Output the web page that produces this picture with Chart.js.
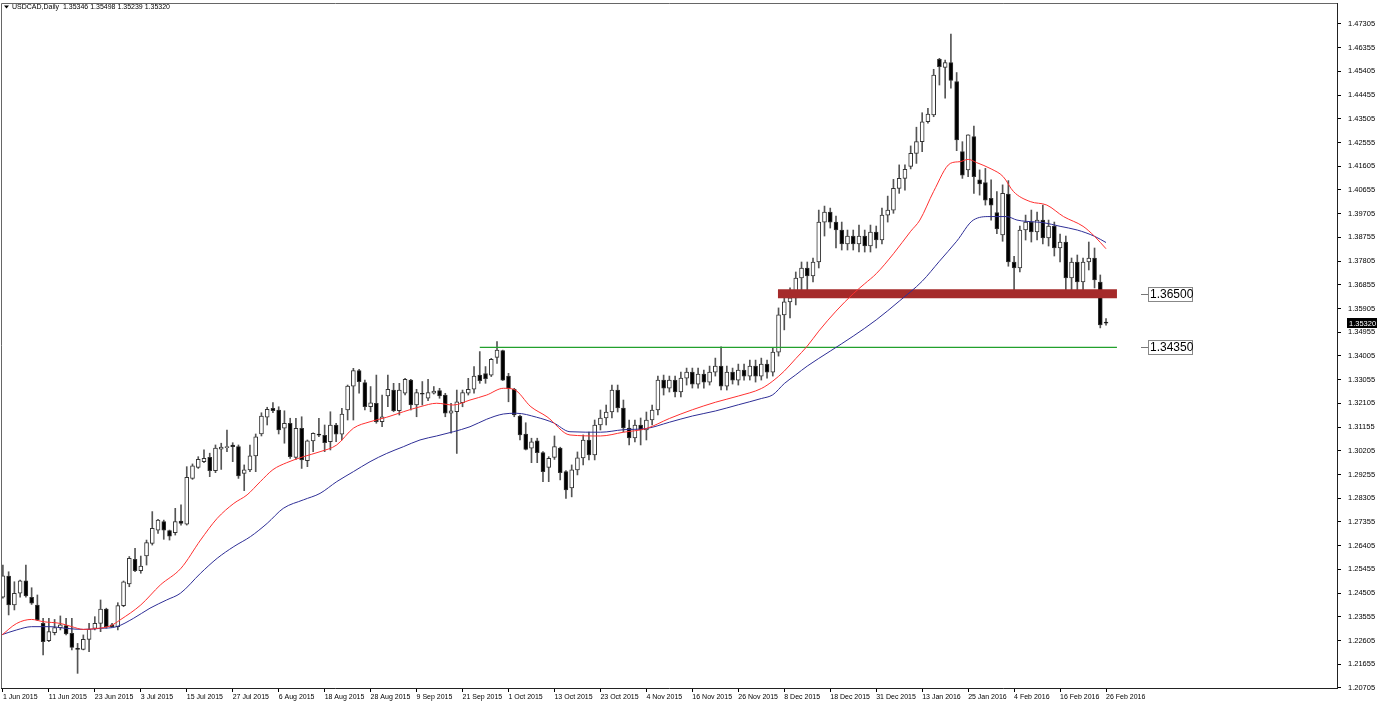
<!DOCTYPE html>
<html>
<head>
<meta charset="utf-8">
<title>USDCAD,Daily</title>
<script src="https://cdn.jsdelivr.net/npm/chart.js@4.4.0/dist/chart.umd.min.js"></script>
<style>
  html, body { margin: 0; padding: 0; background: #fff; }
  #wrap { position: relative; width: 1377px; height: 705px; }
  canvas { display: block; }
</style>
</head>
<body>
<div id="wrap"><canvas id="chart" width="1377" height="705"></canvas></div>
<script>
const header = "USDCAD,Daily  1.35346 1.35498 1.35239 1.35320";

// daily bars, 1 Jun 2015 .. 26 Feb 2016
const opens = [
  1.2434, 1.2519, 1.2403, 1.2450, 1.2500, 1.2434, 1.2403, 1.2329, 1.2260, 1.2292,
  1.2312, 1.2320, 1.2289, 1.2229, 1.2225, 1.2265, 1.2309, 1.2329, 1.2386, 1.2323,
  1.2316, 1.2400, 1.2487, 1.2586, 1.2540, 1.2599, 1.2650, 1.2703, 1.2737, 1.2701,
  1.2693, 1.2739, 1.2727, 1.2910, 1.2954, 1.2977, 1.2994, 1.2941, 1.3027, 1.3033,
  1.3044, 1.3037, 1.2930, 1.2944, 1.3000, 1.3088, 1.3155, 1.3191, 1.3184, 1.3111,
  1.3131, 1.2994, 1.3111, 1.2981, 1.3060, 1.3088, 1.3083, 1.3057, 1.3124, 1.3087,
  1.3184, 1.3280, 1.3342, 1.3294, 1.3197, 1.3211, 1.3137, 1.3240, 1.3264, 1.3181,
  1.3251, 1.3304, 1.3204, 1.3251, 1.3231, 1.3251, 1.3262, 1.3244, 1.3171, 1.3177,
  1.3213, 1.3251, 1.3267, 1.3324, 1.3330, 1.3324, 1.3395, 1.3422, 1.3320, 1.3267,
  1.3160, 1.3088, 1.3031, 1.3061, 1.3013, 1.2954, 1.2994, 1.3031, 1.2937, 1.2872,
  1.2944, 1.2992, 1.3064, 1.3004, 1.3124, 1.3152, 1.3176, 1.3264, 1.3192, 1.3112,
  1.3072, 1.3124, 1.3104, 1.3144, 1.3184, 1.3304, 1.3272, 1.3304, 1.3256, 1.3312,
  1.3336, 1.3288, 1.3328, 1.3296, 1.3336, 1.3360, 1.3280, 1.3336, 1.3304, 1.3344,
  1.3320, 1.3360, 1.3320, 1.3368, 1.3336, 1.3416, 1.3565, 1.3617, 1.3633, 1.3713,
  1.3753, 1.3721, 1.3777, 1.3937, 1.3977, 1.3937, 1.3905, 1.3849, 1.3881, 1.3849,
  1.3881, 1.3841, 1.3897, 1.3865, 1.3965, 1.3985, 1.4072, 1.4112, 1.4160, 1.4212,
  1.4259, 1.4339, 1.4366, 1.4589, 1.4557, 1.4576, 1.4500, 1.4219, 1.4146, 1.4279,
  1.4106, 1.4095, 1.4032, 1.3975, 1.3885, 1.4049, 1.3777, 1.3753, 1.3905, 1.3937,
  1.3897, 1.3945, 1.3873, 1.3921, 1.3833, 1.3857, 1.3713, 1.3777, 1.3697, 1.3777,
  1.3793, 1.3697, 1.35346
];
const highs = [
  1.2563, 1.2536, 1.2496, 1.2503, 1.2563, 1.2472, 1.2443, 1.2349, 1.2349, 1.2345,
  1.2359, 1.2349, 1.2349, 1.2249, 1.2283, 1.2329, 1.2356, 1.2423, 1.2390, 1.2329,
  1.2412, 1.2499, 1.2597, 1.2630, 1.2599, 1.2663, 1.2777, 1.2746, 1.2743, 1.2703,
  1.2790, 1.2804, 1.2957, 1.2968, 1.2997, 1.3024, 1.3011, 1.3044, 1.3051, 1.3104,
  1.3053, 1.3044, 1.2964, 1.3044, 1.3088, 1.3173, 1.3195, 1.3214, 1.3197, 1.3181,
  1.3151, 1.3151, 1.3157, 1.3064, 1.3093, 1.3151, 1.3124, 1.3177, 1.3131, 1.3191,
  1.3284, 1.3351, 1.3347, 1.3304, 1.3278, 1.3324, 1.3244, 1.3324, 1.3291, 1.3291,
  1.3311, 1.3307, 1.3267, 1.3298, 1.3307, 1.3278, 1.3271, 1.3251, 1.3211, 1.3264,
  1.3264, 1.3311, 1.3358, 1.3418, 1.3358, 1.3391, 1.3458, 1.3424, 1.3331, 1.3271,
  1.3164, 1.3133, 1.3071, 1.3071, 1.3017, 1.2997, 1.3080, 1.3035, 1.2941, 1.2964,
  1.3016, 1.3084, 1.3096, 1.3144, 1.3184, 1.3204, 1.3284, 1.3284, 1.3224, 1.3144,
  1.3144, 1.3152, 1.3176, 1.3204, 1.3320, 1.3324, 1.3320, 1.3320, 1.3336, 1.3352,
  1.3352, 1.3352, 1.3344, 1.3360, 1.3392, 1.3437, 1.3360, 1.3352, 1.3368, 1.3368,
  1.3384, 1.3384, 1.3392, 1.3384, 1.3432, 1.3593, 1.3641, 1.3673, 1.3737, 1.3777,
  1.3777, 1.3793, 1.3985, 1.4001, 1.3993, 1.3961, 1.3937, 1.3905, 1.3905, 1.3925,
  1.3905, 1.3925, 1.3921, 1.3993, 1.4041, 1.4108, 1.4166, 1.4166, 1.4242, 1.4317,
  1.4375, 1.4393, 1.4549, 1.4593, 1.4586, 1.4690, 1.4536, 1.4259, 1.4286, 1.4322,
  1.4146, 1.4152, 1.4106, 1.4059, 1.4086, 1.4103, 1.3800, 1.3921, 1.3965, 1.3985,
  1.3977, 1.4005, 1.3945, 1.3937, 1.3889, 1.3881, 1.3793, 1.3805, 1.3793, 1.3857,
  1.3833, 1.3725, 1.35498
];
const lows = [
  1.2430, 1.2363, 1.2383, 1.2434, 1.2434, 1.2405, 1.2340, 1.2203, 1.2256, 1.2283,
  1.2303, 1.2283, 1.2223, 1.2129, 1.2223, 1.2216, 1.2303, 1.2296, 1.2310, 1.2314,
  1.2303, 1.2396, 1.2476, 1.2536, 1.2530, 1.2563, 1.2643, 1.2690, 1.2666, 1.2663,
  1.2683, 1.2723, 1.2723, 1.2906, 1.2950, 1.2973, 1.2917, 1.2933, 1.2946, 1.3017,
  1.2977, 1.2910, 1.2861, 1.2937, 1.2937, 1.3080, 1.3124, 1.3173, 1.3088, 1.3051,
  1.2990, 1.2986, 1.2950, 1.2957, 1.3017, 1.3077, 1.3017, 1.3024, 1.3057, 1.3064,
  1.3144, 1.3144, 1.3251, 1.3184, 1.3177, 1.3131, 1.3117, 1.3197, 1.3177, 1.3164,
  1.3244, 1.3184, 1.3157, 1.3204, 1.3221, 1.3248, 1.3231, 1.3157, 1.3091, 1.3010,
  1.3197, 1.3244, 1.3251, 1.3291, 1.3291, 1.3318, 1.3371, 1.3302, 1.3217, 1.3157,
  1.3064, 1.3024, 1.2973, 1.2973, 1.2897, 1.2897, 1.2986, 1.2904, 1.2830, 1.2836,
  1.2924, 1.2964, 1.2984, 1.2984, 1.3104, 1.3124, 1.3152, 1.3176, 1.3096, 1.3044,
  1.3056, 1.3044, 1.3064, 1.3124, 1.3164, 1.3244, 1.3256, 1.3236, 1.3236, 1.3284,
  1.3272, 1.3272, 1.3272, 1.3284, 1.3320, 1.3264, 1.3264, 1.3288, 1.3284, 1.3304,
  1.3304, 1.3296, 1.3304, 1.3312, 1.3320, 1.3400, 1.3505, 1.3553, 1.3605, 1.3665,
  1.3665, 1.3697, 1.3753, 1.3881, 1.3913, 1.3833, 1.3825, 1.3825, 1.3825, 1.3817,
  1.3817, 1.3817, 1.3833, 1.3849, 1.3937, 1.3972, 1.4052, 1.4065, 1.4150, 1.4172,
  1.4219, 1.4333, 1.4359, 1.4486, 1.4433, 1.4473, 1.4223, 1.4112, 1.4119, 1.4052,
  1.4045, 1.4005, 1.3945, 1.3890, 1.3860, 1.3760, 1.3643, 1.3737, 1.3865, 1.3857,
  1.3865, 1.3849, 1.3841, 1.3801, 1.3777, 1.3657, 1.3665, 1.3657, 1.3665, 1.3745,
  1.3673, 1.3513, 1.35239
];
const closes = [
  1.2520, 1.2403, 1.2450, 1.2500, 1.2439, 1.2410, 1.2343, 1.2256, 1.2296, 1.2312,
  1.2323, 1.2287, 1.2233, 1.2225, 1.2265, 1.2305, 1.2329, 1.2386, 1.2316, 1.2316,
  1.2400, 1.2496, 1.2590, 1.2540, 1.2559, 1.2653, 1.2710, 1.2743, 1.2703, 1.2679,
  1.2737, 1.2730, 1.2914, 1.2960, 1.2986, 1.2990, 1.2941, 1.3031, 1.3035, 1.3036,
  1.3037, 1.2920, 1.2944, 1.3000, 1.3077, 1.3160, 1.3187, 1.3181, 1.3104, 1.3131,
  1.2997, 1.3111, 1.2984, 1.3061, 1.3091, 1.3083, 1.3053, 1.3124, 1.3087, 1.3168,
  1.3280, 1.3342, 1.3298, 1.3197, 1.3213, 1.3137, 1.3157, 1.3267, 1.3181, 1.3264,
  1.3307, 1.3204, 1.3254, 1.3247, 1.3254, 1.3260, 1.3240, 1.3171, 1.3181, 1.3217,
  1.3254, 1.3267, 1.3320, 1.3302, 1.3310, 1.3387, 1.3424, 1.3304, 1.3271, 1.3164,
  1.3084, 1.3026, 1.3057, 1.3013, 1.2937, 1.2990, 1.3037, 1.2933, 1.2864, 1.2944,
  1.2992, 1.3064, 1.3004, 1.3124, 1.3152, 1.3176, 1.3264, 1.3192, 1.3112, 1.3072,
  1.3124, 1.3104, 1.3144, 1.3184, 1.3304, 1.3272, 1.3304, 1.3256, 1.3312, 1.3336,
  1.3288, 1.3328, 1.3296, 1.3336, 1.3360, 1.3280, 1.3336, 1.3304, 1.3344, 1.3320,
  1.3360, 1.3320, 1.3368, 1.3336, 1.3416, 1.3565, 1.3617, 1.3633, 1.3713, 1.3753,
  1.3721, 1.3777, 1.3937, 1.3977, 1.3937, 1.3905, 1.3849, 1.3881, 1.3849, 1.3881,
  1.3841, 1.3897, 1.3865, 1.3965, 1.3985, 1.4072, 1.4112, 1.4148, 1.4212, 1.4259,
  1.4339, 1.4370, 1.4526, 1.4560, 1.4576, 1.4504, 1.4266, 1.4125, 1.4286, 1.4119,
  1.4090, 1.4025, 1.4005, 1.3910, 1.4052, 1.3777, 1.3753, 1.3905, 1.3937, 1.3897,
  1.3945, 1.3873, 1.3921, 1.3833, 1.3857, 1.3713, 1.3777, 1.3697, 1.3777, 1.3793,
  1.3705, 1.3525, 1.35320
];

// one date label every 8 bars
const dateTicks = [
  "1 Jun 2015", "11 Jun 2015", "23 Jun 2015", "3 Jul 2015", "15 Jul 2015",
  "27 Jul 2015", "6 Aug 2015", "18 Aug 2015", "28 Aug 2015", "9 Sep 2015",
  "21 Sep 2015", "1 Oct 2015", "13 Oct 2015", "23 Oct 2015", "4 Nov 2015",
  "16 Nov 2015", "26 Nov 2015", "8 Dec 2015", "18 Dec 2015", "31 Dec 2015",
  "13 Jan 2016", "25 Jan 2016", "4 Feb 2016", "16 Feb 2016", "26 Feb 2016"
];
const priceTicks = [
  1.20705, 1.21655, 1.22605, 1.23555, 1.24505, 1.25455, 1.26405, 1.27355,
  1.28305, 1.29255, 1.30205, 1.31155, 1.32105, 1.33055, 1.34005, 1.34955,
  1.35905, 1.36855, 1.37805, 1.38755, 1.39705, 1.40655, 1.41605, 1.42555,
  1.43505, 1.44455, 1.45405, 1.46355, 1.47305
];

// moving averages: [bar, price]
const fastMA = [
  [-0.3, 1.2280], [2.4, 1.2329], [5, 1.2345], [7, 1.2336], [10, 1.2329], [12, 1.2316],
  [14, 1.2305], [16.4, 1.2309], [18.7, 1.2319], [20.4, 1.2343], [24, 1.2403], [27.4, 1.2483],
  [31, 1.2550], [34.4, 1.2663], [37.3, 1.2750], [40.2, 1.2810], [42.5, 1.2844], [44.8, 1.2897],
  [47, 1.2945], [49.4, 1.2973], [52.3, 1.2997], [55.2, 1.3017], [58.1, 1.3044], [61, 1.3111],
  [63.9, 1.3137], [66.8, 1.3155], [69.7, 1.3177], [72.6, 1.3197], [75.5, 1.3211], [78.4, 1.3204],
  [81.3, 1.3224], [84.2, 1.3244], [87.1, 1.3271], [88.9, 1.3267], [91.9, 1.3197], [94.7, 1.3157],
  [98.7, 1.3084], [104, 1.3080], [108, 1.3095], [112, 1.3110], [116, 1.3150], [120, 1.3185],
  [124, 1.3215], [128, 1.3240], [132, 1.3270], [134, 1.3300], [136, 1.3340], [138, 1.3390],
  [140, 1.3440], [142, 1.3500], [145, 1.3580], [148, 1.3650], [150, 1.3690], [152, 1.3730],
  [155, 1.3810], [158, 1.3900], [159.6, 1.3945], [162, 1.4060], [164.9, 1.4172], [166.6, 1.4179],
  [168, 1.4188], [169.5, 1.4175], [172, 1.4150], [174.1, 1.4119], [175.9, 1.4059], [178.8, 1.4019],
  [181.7, 1.4005], [184.6, 1.3959], [188, 1.3920], [190, 1.3880], [192, 1.3830]
];
const slowMA = [
  [-0.3, 1.2283], [2.4, 1.2303], [5, 1.2316], [8.2, 1.2316], [11.1, 1.2309], [14, 1.2305],
  [16.9, 1.2309], [19.8, 1.2316], [22.7, 1.2349], [25.6, 1.2390], [28.5, 1.2423], [30.9, 1.2450],
  [34.4, 1.2530], [37.3, 1.2590], [40.2, 1.2637], [43.1, 1.2677], [46, 1.2730], [48.8, 1.2790],
  [52.3, 1.2824], [55.2, 1.2850], [58.1, 1.2897], [61, 1.2937], [63.9, 1.2977], [66.8, 1.3010],
  [69.7, 1.3037], [72.6, 1.3064], [75.5, 1.3080], [78.4, 1.3097], [81.3, 1.3117], [84.2, 1.3147],
  [87.1, 1.3168], [89.4, 1.3171], [92.9, 1.3155], [95.8, 1.3133], [98.7, 1.3097], [104, 1.3095],
  [108, 1.3105], [112, 1.3110], [116, 1.3135], [120, 1.3160], [124, 1.3180], [128, 1.3205],
  [132, 1.3230], [134, 1.3245], [136, 1.3290], [138, 1.3325], [140, 1.3360], [144, 1.3420],
  [148, 1.3480], [152, 1.3545], [156, 1.3620], [160, 1.3700], [163, 1.3780], [166, 1.3860],
  [168.9, 1.3945], [171.8, 1.3959], [174.7, 1.3959], [176.5, 1.3945], [178, 1.3940],
  [181, 1.3935], [184, 1.3920], [187, 1.3905], [190, 1.3880], [192, 1.3855]
];

// horizontal levels drawn on the chart
const levelPrices = [1.36500, 1.34350];
const levelFrom = [134.9, 83];
const levelTo = 193.9;

const FONT = '"Liberation Sans", Arial, sans-serif';
const bars = opens.map((_, i) => i);
const upBar = bars.map(i => closes[i] >= opens[i]);

const levelColors = ['#a52a2a', '#22a02c'];
const levelWidths = [9, 1.4];

const datasets = [
  {
    type: 'line', label: 'fast', order: 0,
    data: fastMA.map(([x, y]) => ({ x, y })),
    borderColor: '#ff3030', borderWidth: 1, pointRadius: 0, cubicInterpolationMode: 'monotone'
  },
  {
    type: 'line', label: 'slow', order: 0,
    data: slowMA.map(([x, y]) => ({ x, y })),
    borderColor: '#2e2e96', borderWidth: 1, pointRadius: 0, cubicInterpolationMode: 'monotone'
  },
  ...levelPrices.map((p, k) => ({
    type: 'line', label: 'level' + k, order: 1,
    data: [{ x: levelFrom[k], y: p }, { x: levelTo, y: p }],
    borderColor: levelColors[k], borderWidth: levelWidths[k], pointRadius: 0, borderCapStyle: 'butt'
  })),
  {
    type: 'bar', label: 'body', order: 2, grouped: false,
    data: bars.map(i => ({ x: i, y: [Math.min(opens[i], closes[i]), Math.max(opens[i], closes[i])] })),
    backgroundColor: upBar.map(u => u ? '#ffffff' : '#000000'),
    borderColor: '#333', borderWidth: 1, borderSkipped: false,
    barThickness: 4, minBarLength: 1
  },
  {
    type: 'bar', label: 'wick', order: 3, grouped: false,
    data: bars.map(i => ({ x: i, y: [lows[i], highs[i]] })),
    backgroundColor: '#555', borderWidth: 0, barThickness: 1
  }
];

const overlay = {
  id: 'overlay',
  afterDraw(chart) {
    const { ctx, chartArea: a, scales } = chart;
    const y = scales.y;
    ctx.save();
    // frame
    ctx.strokeStyle = '#666';
    ctx.lineWidth = 1;
    ctx.beginPath();
    ctx.moveTo(a.left + 0.5, a.bottom);
    ctx.lineTo(a.left + 0.5, a.top + 0.5);
    ctx.lineTo(a.right, a.top + 0.5);
    ctx.stroke();

    // header
    ctx.fillStyle = '#000';
    ctx.font = '7px ' + FONT;
    ctx.textBaseline = 'middle';
    ctx.textAlign = 'left';
    ctx.beginPath();
    ctx.moveTo(4, 5.5); ctx.lineTo(9, 5.5); ctx.lineTo(6.5, 8.5); ctx.closePath(); ctx.fill();
    ctx.fillText(header, 12, 7.5);

    // level labels
    ctx.font = '12px ' + FONT;
    levelPrices.forEach(p => {
      const py = Math.round(y.getPixelForValue(p)) + 0.5;
      ctx.strokeStyle = '#777';
      ctx.beginPath(); ctx.moveTo(1141, py); ctx.lineTo(1148, py); ctx.stroke();
      ctx.fillStyle = '#fff';
      ctx.fillRect(1148.5, py - 7, 44, 14);
      ctx.strokeStyle = '#888';
      ctx.strokeRect(1148.5, py - 7, 44, 14);
      ctx.fillStyle = '#000';
      ctx.fillText(p.toFixed(5), 1150, py + 0.5);
    });

    // last price marker on the price axis
    const last = closes[closes.length - 1];
    const ly = Math.round(y.getPixelForValue(last));
    ctx.fillStyle = '#000';
    ctx.fillRect(a.right + 10, ly - 5, 30, 10);
    ctx.fillStyle = '#fff';
    ctx.font = '7.5px ' + FONT;
    ctx.fillText(last.toFixed(5), a.right + 12, ly + 0.5);
    ctx.restore();
  }
};

new Chart(document.getElementById('chart'), {
  type: 'bar',
  data: { datasets },
  options: {
    responsive: false,
    animation: false,
    devicePixelRatio: 1,
    layout: { padding: { left: 1, top: 3, right: 0, bottom: 0 } },
    plugins: { legend: { display: false }, tooltip: { enabled: false } },
    scales: {
      x: {
        type: 'linear', position: 'bottom', offset: false,
        min: -0.33, max: 232.2,
        afterBuildTicks: s => { s.ticks = dateTicks.map((_, k) => ({ value: k * 8 })); },
        afterFit: s => { s.height = 17; s.paddingLeft = 0; s.paddingRight = 0; },
        grid: { drawOnChartArea: false, offset: false, tickLength: 4, color: '#000' },
        border: { display: true, color: '#222' },
        ticks: {
          autoSkip: false, maxRotation: 0, align: 'start', padding: 1,
          color: '#000', font: { family: FONT, size: 7 },
          callback: v => dateTicks[v / 8]
        }
      },
      y: {
        type: 'linear', position: 'right',
        min: 1.20703, max: 1.48146,
        afterBuildTicks: s => { s.ticks = priceTicks.map(v => ({ value: v })); },
        afterFit: s => { s.width = 40; s.paddingTop = 0; s.paddingBottom = 0; },
        grid: { drawOnChartArea: false, tickLength: 4, color: '#000' },
        border: { display: true, color: '#222' },
        ticks: {
          autoSkip: false, padding: 7, color: '#000',
          font: { family: FONT, size: 7.5 },
          callback: v => v.toFixed(5)
        }
      }
    }
  },
  plugins: [overlay]
});
</script>
</body>
</html>
